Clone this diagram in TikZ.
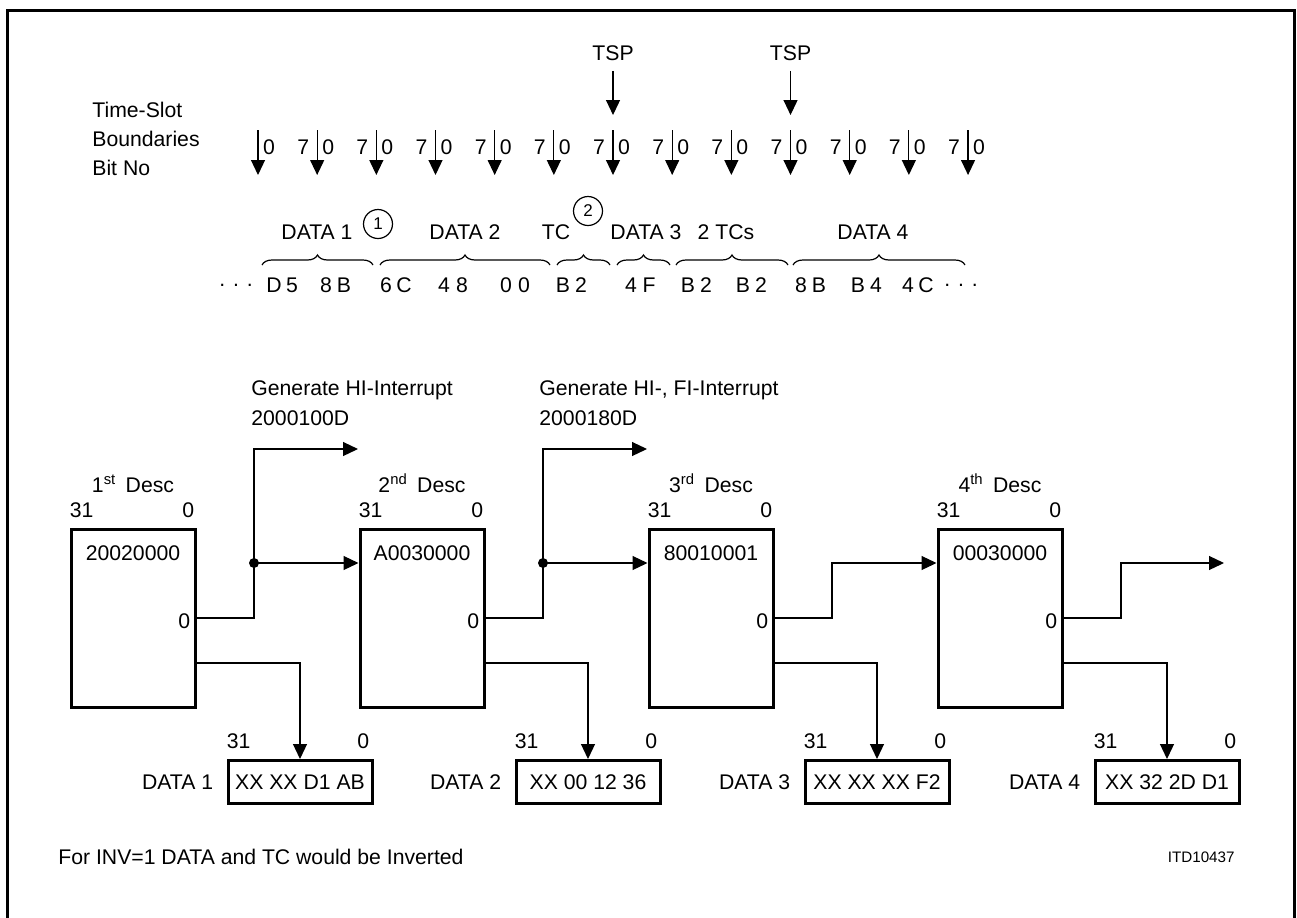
\documentclass[tikz,border=0pt]{standalone}
\usepackage{fontspec}
\setmainfont{Liberation Sans}
\usetikzlibrary{arrows.meta,positioning,decorations.pathreplacing}

\tikzset{
  desc/.style={draw, line width=1.5pt, minimum width=62pt, minimum height=89pt, inner sep=0pt},
  word/.style={draw, line width=1.5pt, minimum width=72pt, minimum height=21.5pt, inner sep=0pt},
  txt/.style={inner sep=0pt},
  tip/.style={-{Triangle[length=7.5pt,width=7pt]}},
  wire/.style={line width=0.6pt},
  num/.style={draw, circle, line width=0.6pt, minimum size=14.5pt, inner sep=0pt, font=\fontsize{8.5}{9}\selectfont},
  brc/.style={decorate, decoration={brace, amplitude=5pt}, line width=0.6pt},
}

\begin{document}
\begin{tikzpicture}[x=0.5pt,y=-0.5pt,font=\fontsize{10.6}{12.7}\selectfont]
  \useasboundingbox (0,0) rectangle (1297,917);
  \draw[line width=1.5pt] (7,925) -- (7,10) -- (1294,10) -- (1294,925);

  % time-slot boundaries
  \node[txt, anchor=west, align=left, font=\fontsize{10.6}{14.5}\selectfont] (title) at (92,139) {Time-Slot\\Boundaries\\Bit No};
  \foreach \i in {0,...,12} {
    \coordinate (b\i) at (258+59.17*\i,130);
    \draw[wire,tip] (b\i) -- ++(0,45);
    \node[txt] (z\i) at (269+59.17*\i,147) {0};
  }
  \foreach \i in {1,...,12}
    \node[txt] (s\i) at (244+59.17*\i,147) {7};

  % TSP
  \foreach \i/\k in {6/1,9/2} {
    \node[txt] (tsp\k) at (258+59.17*\i,53) {TSP};
    \coordinate (tspend\k) at (258+59.17*\i,115);
    \draw[wire,tip] ([yshift=-5pt]tsp\k.south) -- (tspend\k);
  }

  % bytes on the line
  \node[txt] (ldots) at (236,285) {. . .};
  \node[txt] (rdots) at (961,285) {. . .};
  \foreach \a/\b/\x [count=\i] in {D/5/283, 8/B/335, 6/C/395, 4/8/453, 0/0/515, B/2/572,
                                   4/F/640, B/2/697, B/2/752, 8/B/810, B/4/867, 4/C/917} {
    \node[txt] (ha\i) at (\x-9,285) {\a};
    \node[txt] (hb\i) at (\x+9,285) {\b};
  }
  \foreach \l/\r in {262/373, 380/550, 557/610, 617/670, 676/788, 793/965}
    \draw[brc] (\l,265) -- (\r,265);

  \node[txt] (g1) at (317,232) {DATA 1};
  \node[num] (c1) at (378,224) {1};
  \node[txt] (g2) at (465,232) {DATA 2};
  \node[txt] (g3) at (556,232) {TC};
  \node[num] (c2) at (588,211) {2};
  \node[txt] (g4) at (646,232) {DATA 3};
  \node[txt] (g5) at (726,232) {2 TCs};
  \node[txt] (g6) at (873,232) {DATA 4};

  % descriptors
  \foreach \x/\n/\v/\o in {133/1/20020000/st, 422/2/A0030000/nd, 711/3/80010001/rd, 1000/4/00030000/th} {
    \node[desc] (d\n) at (\x,618) {};
    \node[txt, below=9pt of d\n.north] (v\n) {\v};
    \node[txt, anchor=south west] (ta\n) at ([yshift=4.5pt]d\n.north west) {31};
    \node[txt, anchor=south east] (tb\n) at ([xshift=-1pt,yshift=4.5pt]d\n.north east) {0};
    \node[txt, above=17pt of d\n.north] (dl\n) {\n\textsuperscript{\o}\, Desc};
    \node[txt, anchor=east] (q\n) at ([xshift=-3pt,yshift=-1.5pt]d\n.east) {0};
  }

  % data words
  \foreach \x/\n/\v in {300/1/XX XX D1 AB, 588/2/XX 00 12 36, 877/3/XX XX XX F2, 1167/4/XX 32 2D D1} {
    \node[word] (m\n) at (\x,782) {\v};
    \node[txt, left=6.5pt of m\n] (ml\n) {DATA \n};
    \node[txt, anchor=south west] (ma\n) at ([xshift=0pt,yshift=5pt]m\n.north west) {31};
    \node[txt, anchor=south east] (mb\n) at ([xshift=-2pt,yshift=5pt]m\n.north east) {0};
    \draw[wire,tip] ([yshift=-22.5pt]d\n.east) -| (m\n.north);
  }

  % interrupts
  \node[txt, anchor=west, align=left, font=\fontsize{10.6}{15}\selectfont] (int1) at (251,403) {Generate HI-Interrupt\\2000100D};
  \node[txt, anchor=west, align=left, font=\fontsize{10.6}{15}\selectfont] (int2) at (539,403) {Generate HI-, FI-Interrupt\\2000180D};

  % links between descriptors
  \coordinate (j1) at (254,563);
  \coordinate (j2) at (543,563);
  \coordinate (j3) at (832,563);
  \coordinate (j4) at (1121,563);
  \coordinate (hi1) at (358,449);
  \coordinate (hi2) at (647,449);
  \coordinate (out) at (1224,563);
  \draw[wire] (d1.east) -| (j1);
  \draw[wire,tip] (j1) -- (j1 -| d2.west);
  \draw[wire,tip] (j1) |- (hi1);
  \fill (j1) circle (2.5pt);
  \draw[wire] (d2.east) -| (j2);
  \draw[wire,tip] (j2) -- (j2 -| d3.west);
  \draw[wire,tip] (j2) |- (hi2);
  \fill (j2) circle (2.5pt);
  \draw[wire,tip] (d3.east) -| (j3) -- (j3 -| d4.west);
  \draw[wire,tip] (d4.east) -| (j4) -- (out);

  \node[txt, anchor=west] (foot) at (58,857) {For INV=1 DATA and TC would be Inverted};
  \node[txt, anchor=east, font=\fontsize{7.6}{9}\selectfont] (itd) at (1235,857) {ITD10437};
\end{tikzpicture}
\end{document}
